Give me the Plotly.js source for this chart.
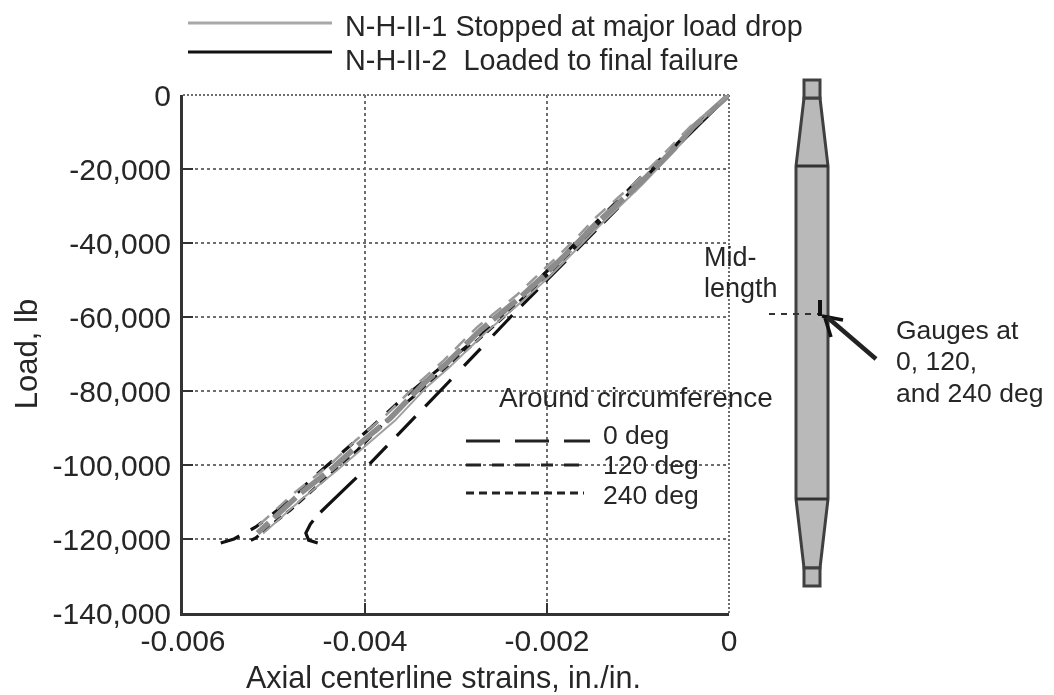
<!DOCTYPE html>
<html>
<head>
<meta charset="utf-8">
<script src="https://cdn.plot.ly/plotly-3.0.1.min.js"></script>
<style>html,body{margin:0;padding:0;background:#fff}#chart{width:1054px;height:695px;filter:blur(0.6px)}</style>
</head>
<body>
<div id="chart"></div>
<script>
// Specimen N-H-II-2 (black), loaded to final failure
var x0deg2 = [0,-0.000834,-0.00106,-0.00181,-0.0024,-0.00308,-0.00412,-0.00452,-0.0046,-0.00465,-0.00462,-0.00452];
var y0deg2 = [0,-20270,-26500,-45135,-60000,-77570,-104050,-113500,-115950,-118400,-120300,-121100];
var x120deg2 = [0,-0.000976,-0.00185,-0.00273,-0.00358,-0.00394,-0.0046,-0.00482,-0.0052,-0.00544,-0.00562];
var y120deg2 = [0,-22430,-44050,-64860,-81900,-90000,-104050,-109460,-116760,-120000,-121350];
var x240deg2 = [0,-0.000867,-0.00174,-0.00251,-0.00326,-0.00372,-0.00408,-0.00445,-0.00482,-0.00503,-0.0052,-0.00531];
var y240deg2 = [0,-20800,-42430,-60800,-77000,-87000,-95900,-104050,-112160,-116200,-119700,-121100];
// Specimen N-H-II-1 (gray), stopped at major load drop
var x0deg1 = [0,-0.000395,-0.000614,-0.000976,-0.001415,-0.001667,-0.002,-0.00229,-0.00273,-0.00311,-0.00336,-0.00372,-0.00405,-0.00434,-0.00473,-0.00518];
var y0deg1 = [0,-8650,-14860,-23780,-33780,-40000,-48100,-54600,-63500,-72700,-78100,-87300,-94050,-100500,-108100,-118400];
var x120deg1 = [0,-0.00042,-0.00066,-0.00102,-0.00146,-0.00171,-0.00205,-0.00233,-0.00277,-0.00315,-0.0034,-0.00377,-0.0041,-0.00438,-0.00477,-0.0052];
var y120deg1 = [0,-8400,-14500,-23400,-33000,-39500,-47500,-54000,-62800,-72100,-77500,-86500,-93300,-99800,-107400,-117000];
var x240deg1 = [0,-0.00038,-0.0006,-0.00095,-0.00138,-0.00163,-0.00196,-0.00225,-0.00268,-0.00307,-0.00332,-0.00367,-0.004,-0.0043,-0.00468,-0.00512];
var y240deg1 = [0,-8800,-15100,-24100,-34300,-40600,-48800,-55300,-64300,-73500,-78900,-88000,-94900,-101300,-108900,-118500];

var xTickVals = [-0.006,-0.004,-0.002,0];
var xTickText = ['-0.006','-0.004','-0.002','0'];
var yTickVals = [0,-20000,-40000,-60000,-80000,-100000,-120000,-140000];
var yTickText = ['0','-20,000','-40,000','-60,000','-80,000','-100,000','-120,000','-140,000'];

var legendSpecimens = ['N-H-II-1 Stopped at major load drop','N-H-II-2&nbsp; Loaded to final failure'];
var legendGauges = ['0 deg','120 deg','240 deg'];

var W = 1054, H = 695, FONT = '"Liberation Sans", Arial, sans-serif', INK = '#262626';
function px(v){return v/W;}
function py(v){return 1-v/H;}
function seg(x0,y0,x1,y1,color,width,dash,layer){
  return {type:'line',xref:'paper',yref:'paper',x0:px(x0),y0:py(y0),x1:px(x1),y1:py(y1),layer:layer||'above',
          line:{color:color,width:width,dash:dash||'solid'}};
}
function poly(points,fill,color,width){
  var p = points.map(function(q,i){return (i?'L':'M')+px(q[0])+','+py(q[1]);}).join(' ')+' Z';
  return {type:'path',xref:'paper',yref:'paper',path:p,fillcolor:fill,layer:'above',line:{color:color,width:width}};
}
function label(x,y,text,size,anchor){
  return {xref:'paper',yref:'paper',x:px(x),y:py(y),text:text,showarrow:false,xanchor:anchor||'left',yanchor:'middle',
          font:{family:FONT,size:size,color:INK},align:'left'};
}
function curve(xs,ys,color,width,dash,name){
  return {x:xs,y:ys,type:'scatter',mode:'lines',name:name,line:{color:color,width:width,dash:dash},hoverinfo:'skip',showlegend:false};
}
var DASH0='136px,22px,21px,11px,28px,15px,29px,11px,23px,13px,28px,18px,24px,19px,37px,14px,27px,14px,25px,19px,50px,11px,60px,20px';
var DASH120='20px,13px,14px,13px', DASH240='9px,6px';
var traces = [
  curve(x0deg2,y0deg2,'#111',3.2,DASH0,'N-H-II-2 0 deg'),
  curve(x120deg2,y120deg2,'#111',3.2,DASH120,'N-H-II-2 120 deg'),
  curve(x240deg2,y240deg2,'#111',3,DASH240,'N-H-II-2 240 deg'),
  curve(x240deg1,y240deg1,'#a0a0a0',2,'solid','N-H-II-1 240 deg'),
  curve(x0deg1,y0deg1,'#8c8c8c',5.5,'30px,7px','N-H-II-1 0 deg'),
  curve(x120deg1,y120deg1,'#999',2.5,'14px,10px','N-H-II-1 120 deg')
];

var GREY='#b9b9b9', EDGE='#404040', GRID='#6e6e6e';
var shapes = [
  // grid lines along the two zero edges of the plot
  seg(183,95,729,95,GRID,2,'2px,2px','below'),
  seg(729,95,729,613,GRID,2,'2px,2px','below'),
  // specimen key
  seg(188,23,332,23,'#a8a8a8',3),
  seg(188,52,332,52,'#111',3),
  // gauge key
  seg(466,441,590,441,'#222',3,'34px,15px'),
  seg(466,465,580,465,'#222',3,'15px,11px,12px,11px'),
  seg(466,493,584,493,'#222',3,'8px,5px'),
  // specimen drawing
  poly([[804,98],[796,166],[796,499],[804,568],[820,568],[828,499],[828,166],[820,98]],GREY,EDGE,3),
  poly([[804,80],[804,98],[820,98],[820,80]],GREY,EDGE,3),
  poly([[804,568],[804,586],[820,586],[820,568]],GREY,EDGE,3),
  seg(796,166,828,166,'#333',3),
  seg(796,499,828,499,'#333',3),
  // gauge location
  seg(769,314,818,314,'#333',2,'6px,6px'),
  seg(820,300,820,316,'#111',4),
  seg(822,316,843,320,'#111',3.5),
  seg(825,318,831,337,'#111',3.5),
  seg(876,359,827,317,'#222',4.5)
];

var annotations = [
  label(343,26,legendSpecimens[0],28.8),
  label(343,60,legendSpecimens[1],28.8),
  label(497,397,'Around circumference',28),
  label(601,435,legendGauges[0],26.5),
  label(601,465,legendGauges[1],26.5),
  label(601,495,legendGauges[2],26.5),
  label(702,257,'Mid-',27),
  label(702,288,'length',27),
  label(894,330,'Gauges at',26.5),
  label(894,361,'0, 120,',26.5),
  label(894,393,'and 240 deg',26.5),
  label(443,677,'Axial centerline strains, in./in.',30.5,'center')
];

var layout = {
  width:W,height:H,margin:{l:0,r:0,t:0,b:0},paper_bgcolor:'#fff',plot_bgcolor:'#fff',showlegend:false,
  font:{family:FONT,size:30,color:INK},
  xaxis:{domain:[183/W,729/W],range:[-0.006,0],tickmode:'array',tickvals:xTickVals,ticktext:xTickText,
    ticks:'inside',ticklen:10,tickwidth:2.5,tickcolor:'#333',showline:true,linecolor:'#333',linewidth:3,
    showgrid:true,gridcolor:GRID,griddash:'dot',gridwidth:2,zeroline:false,ticklabelstandoff:-1,
    tickfont:{family:FONT,size:30,color:INK},automargin:false},
  yaxis:{domain:[1-613/H,1-95/H],range:[-140000,0],tickmode:'array',tickvals:yTickVals,ticktext:yTickText,
    ticks:'inside',ticklen:10,tickwidth:2.5,tickcolor:'#333',showline:true,linecolor:'#333',linewidth:3,
    showgrid:true,gridcolor:GRID,griddash:'dot',gridwidth:2,zeroline:false,ticklabelstandoff:3,
    tickfont:{family:FONT,size:30,color:INK},
    title:{text:'Load, lb',font:{family:FONT,size:31,color:INK},standoff:6},automargin:false},
  shapes:shapes,annotations:annotations
};
Plotly.newPlot('chart',traces,layout,{displayModeBar:false,staticPlot:true});
</script>
</body>
</html>
